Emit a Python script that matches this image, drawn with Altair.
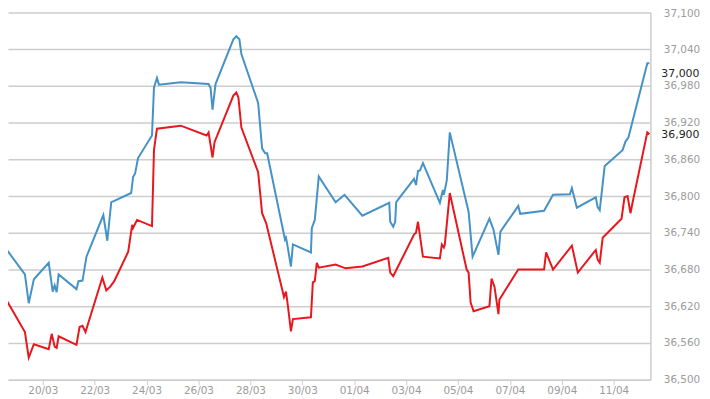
import altair as alt
import pandas as pd

blue_time = [
    "2024-03-18T08:30", "2024-03-19T07:30", "2024-03-19T11:00", "2024-03-19T15:45",
    "2024-03-20T05:30", "2024-03-20T09:10", "2024-03-20T11:00", "2024-03-20T12:50", "2024-03-20T14:40",
    "2024-03-21T07:10", "2024-03-21T09:00", "2024-03-21T12:45", "2024-03-21T16:25",
    "2024-03-22T08:00", "2024-03-22T11:40", "2024-03-22T15:20", "2024-03-22T18:05",
    "2024-03-23T09:45", "2024-03-23T11:30", "2024-03-23T13:25", "2024-03-23T16:05",
    "2024-03-24T05:00", "2024-03-24T06:50", "2024-03-24T09:35", "2024-03-24T11:25",
    "2024-03-25T07:35",
    "2024-03-26T09:20", "2024-03-26T11:10", "2024-03-26T13:00", "2024-03-26T15:45",
    "2024-03-27T08:15", "2024-03-27T11:00", "2024-03-27T13:50", "2024-03-27T15:40",
    "2024-03-28T07:10", "2024-03-28T10:50", "2024-03-28T13:40", "2024-03-28T15:30",
    "2024-03-29T08:00", "2024-03-29T08:55", "2024-03-29T09:50", "2024-03-29T13:30", "2024-03-29T15:20",
    "2024-03-30T08:00", "2024-03-30T08:50", "2024-03-30T11:35", "2024-03-30T15:15",
    "2024-03-31T06:50", "2024-03-31T15:05",
    "2024-04-01T07:35",
    "2024-04-02T08:25", "2024-04-02T09:20", "2024-04-02T12:05", "2024-04-02T13:55", "2024-04-02T14:50",
    "2024-04-03T07:20", "2024-04-03T09:10", "2024-04-03T11:00", "2024-04-03T12:50", "2024-04-03T15:35",
    "2024-04-04T07:15", "2024-04-04T10:00", "2024-04-04T10:55", "2024-04-04T13:40", "2024-04-04T16:25",
    "2024-04-05T09:50", "2024-04-05T13:30",
    "2024-04-06T05:05", "2024-04-06T08:50", "2024-04-06T13:25", "2024-04-06T15:15",
    "2024-04-07T07:45", "2024-04-07T09:35",
    "2024-04-08T07:35", "2024-04-08T15:55",
    "2024-04-09T07:30", "2024-04-09T09:20", "2024-04-09T13:55",
    "2024-04-10T07:25", "2024-04-10T09:10", "2024-04-10T11:05", "2024-04-10T15:40",
    "2024-04-11T08:10", "2024-04-11T10:55", "2024-04-11T13:40",
    "2024-04-12T07:05", "2024-04-12T09:00",
]
blue_value = [
    36727, 36672, 36625, 36664,
    36691, 36644, 36654, 36643, 36672,
    36648, 36661, 36662, 36701,
    36769, 36727, 36790, 36792,
    36805, 36831, 36837, 36862,
    36899, 36977, 36993, 36982,
    36986,
    36983, 36977, 36941, 36983,
    37056, 37061, 37056, 37032,
    36952, 36878, 36870, 36870,
    36729, 36732, 36724, 36685, 36721,
    36708, 36748, 36761, 36832,
    36790, 36802,
    36768,
    36789, 36758, 36750, 36758, 36790,
    36828, 36818, 36841, 36842, 36854,
    36789, 36810, 36802, 36826, 36904,
    36774, 36701,
    36763, 36745, 36704, 36742,
    36784, 36771,
    36776, 36802,
    36803, 36813, 36781,
    36798, 36782, 36777, 36849,
    36875, 36889, 36896,
    37017, 37017,
]

red_time = [
    "2024-03-18T08:30", "2024-03-19T07:30", "2024-03-19T11:00", "2024-03-19T15:45",
    "2024-03-20T05:30", "2024-03-20T08:15", "2024-03-20T11:00", "2024-03-20T12:50", "2024-03-20T14:40",
    "2024-03-21T07:10", "2024-03-21T10:00", "2024-03-21T12:45", "2024-03-21T15:30",
    "2024-03-22T07:05", "2024-03-22T10:45", "2024-03-22T14:25", "2024-03-22T18:05",
    "2024-03-23T07:00", "2024-03-23T10:40", "2024-03-23T11:30", "2024-03-23T15:10",
    "2024-03-24T05:00", "2024-03-24T06:50", "2024-03-24T09:35",
    "2024-03-25T07:35",
    "2024-03-26T07:30", "2024-03-26T09:20", "2024-03-26T13:00", "2024-03-26T14:50",
    "2024-03-27T08:15", "2024-03-27T11:00", "2024-03-27T12:55", "2024-03-27T15:40",
    "2024-03-28T07:10", "2024-03-28T10:50", "2024-03-28T14:35",
    "2024-03-29T07:05", "2024-03-29T08:55", "2024-03-29T10:45", "2024-03-29T13:30", "2024-03-29T15:20",
    "2024-03-30T08:00", "2024-03-30T09:45", "2024-03-30T11:35", "2024-03-30T13:25", "2024-03-30T15:15",
    "2024-03-31T06:50", "2024-03-31T16:00",
    "2024-04-01T07:35",
    "2024-04-02T07:30", "2024-04-02T09:20", "2024-04-02T12:05", "2024-04-02T15:45",
    "2024-04-03T07:20", "2024-04-03T09:10", "2024-04-03T11:00", "2024-04-03T15:35",
    "2024-04-04T07:15", "2024-04-04T09:05", "2024-04-04T10:55", "2024-04-04T11:50", "2024-04-04T16:25",
    "2024-04-05T08:00", "2024-04-05T09:50", "2024-04-05T11:40", "2024-04-05T14:25",
    "2024-04-06T05:05", "2024-04-06T07:00", "2024-04-06T09:45", "2024-04-06T13:25", "2024-04-06T14:20",
    "2024-04-07T07:45",
    "2024-04-08T07:35", "2024-04-08T09:30", "2024-04-08T15:55",
    "2024-04-09T09:20", "2024-04-09T14:50",
    "2024-04-10T07:25", "2024-04-10T09:10", "2024-04-10T11:05", "2024-04-10T13:50",
    "2024-04-11T07:15", "2024-04-11T10:00", "2024-04-11T12:50", "2024-04-11T15:30", "2024-04-11T17:25",
    "2024-04-12T07:05", "2024-04-12T09:00",
]
red_value = [
    36648, 36578, 36536, 36558,
    36550, 36575, 36554, 36552, 36571,
    36557, 36586, 36588, 36578,
    36667, 36646, 36652, 36661,
    36709, 36753, 36748, 36761,
    36751, 36875, 36910,
    36915,
    36899, 36904, 36863, 36888,
    36964, 36969, 36961, 36912,
    36839, 36772, 36756,
    36635, 36644, 36620, 36579, 36599,
    36602, 36659, 36661, 36691, 36683,
    36688, 36682,
    36685,
    36699, 36675, 36669, 36682,
    36737, 36740, 36758, 36701,
    36698, 36721, 36716, 36721, 36805,
    36680, 36675, 36626, 36612,
    36620, 36665, 36652, 36607, 36631,
    36680,
    36680, 36708, 36680,
    36719, 36675,
    36712, 36696, 36691, 36732,
    36763, 36798, 36800, 36772, 36789,
    36904, 36901,
]

series_names = ["blue", "red"]
series_colors = ["#4592c6", "#e8171d"]

last_time = ["2024-04-12T09:00", "2024-04-12T09:00"]
last_label = [37000, 36900]

y_ticks = [36500, 36560, 36620, 36680, 36740, 36800, 36860, 36920, 36980, 37040, 37100]
x_tick_days = [(3, 20), (3, 22), (3, 24), (3, 26), (3, 28), (3, 30),
               (4, 1), (4, 3), (4, 5), (4, 7), (4, 9), (4, 11)]

df = pd.DataFrame({
    "time": blue_time + red_time,
    "value": blue_value + red_value,
    "series": ["blue"] * len(blue_time) + ["red"] * len(red_time),
})
df_last = pd.DataFrame({"time": last_time, "value": last_label})

FONT = "DejaVu Sans"
GRID = "#cdcdcd"
LABEL = "#9b9b9b"

x_enc = alt.X(
    "time:T",
    scale=alt.Scale(domain=[
        alt.DateTime(year=2024, month=3, date=18, hours=15, minutes=50),
        alt.DateTime(year=2024, month=4, date=12, hours=9, minutes=55),
    ]),
    axis=alt.Axis(
        values=[alt.DateTime(year=2024, month=m, date=d) for m, d in x_tick_days],
        format="%d/%m", title=None, grid=False,
        domainColor=GRID, domainWidth=1.5, tickColor=GRID, tickSize=5, tickWidth=1,
        labelColor=LABEL, labelFont=FONT, labelFontSize=10.5,
        labelPadding=1, labelFlush=False, labelOverlap=False,
    ),
)
y_enc = alt.Y(
    "value:Q",
    scale=alt.Scale(domain=[36500, 37100], nice=False, zero=False),
    axis=alt.Axis(
        orient="right", values=y_ticks, format=",.0f", title=None,
        grid=True, gridColor=GRID, gridWidth=1.5,
        domainColor=GRID, domainWidth=1.5, ticks=False,
        labelColor=LABEL, labelFont=FONT, labelFontSize=10.5, labelPadding=13,
        labelOffset=alt.condition("datum.value >= 37100", alt.value(1.5), alt.value(0)),
    ),
)

lines = alt.Chart(df).mark_line(strokeWidth=2, clip=True).encode(
    x=x_enc,
    y=y_enc,
    color=alt.Color("series:N", scale=alt.Scale(domain=series_names, range=series_colors), legend=None),
)

labels = alt.Chart(df_last).mark_text(
    align="left", baseline="middle", dx=12, font=FONT, fontSize=11, color="#1e1e1e",
).encode(
    x=x_enc,
    y=y_enc,
    text=alt.Text("value:Q", format=",.0f"),
)

chart = alt.layer(lines, labels).properties(
    width=647,
    height=370,
    autosize=alt.AutoSizeParams(type="none"),
    padding={"left": 0, "top": 3, "right": 52, "bottom": 20},
    background="white",
).configure_view(stroke=None)

chart.save("out.html", embed_options={"renderer": "svg", "actions": False})
